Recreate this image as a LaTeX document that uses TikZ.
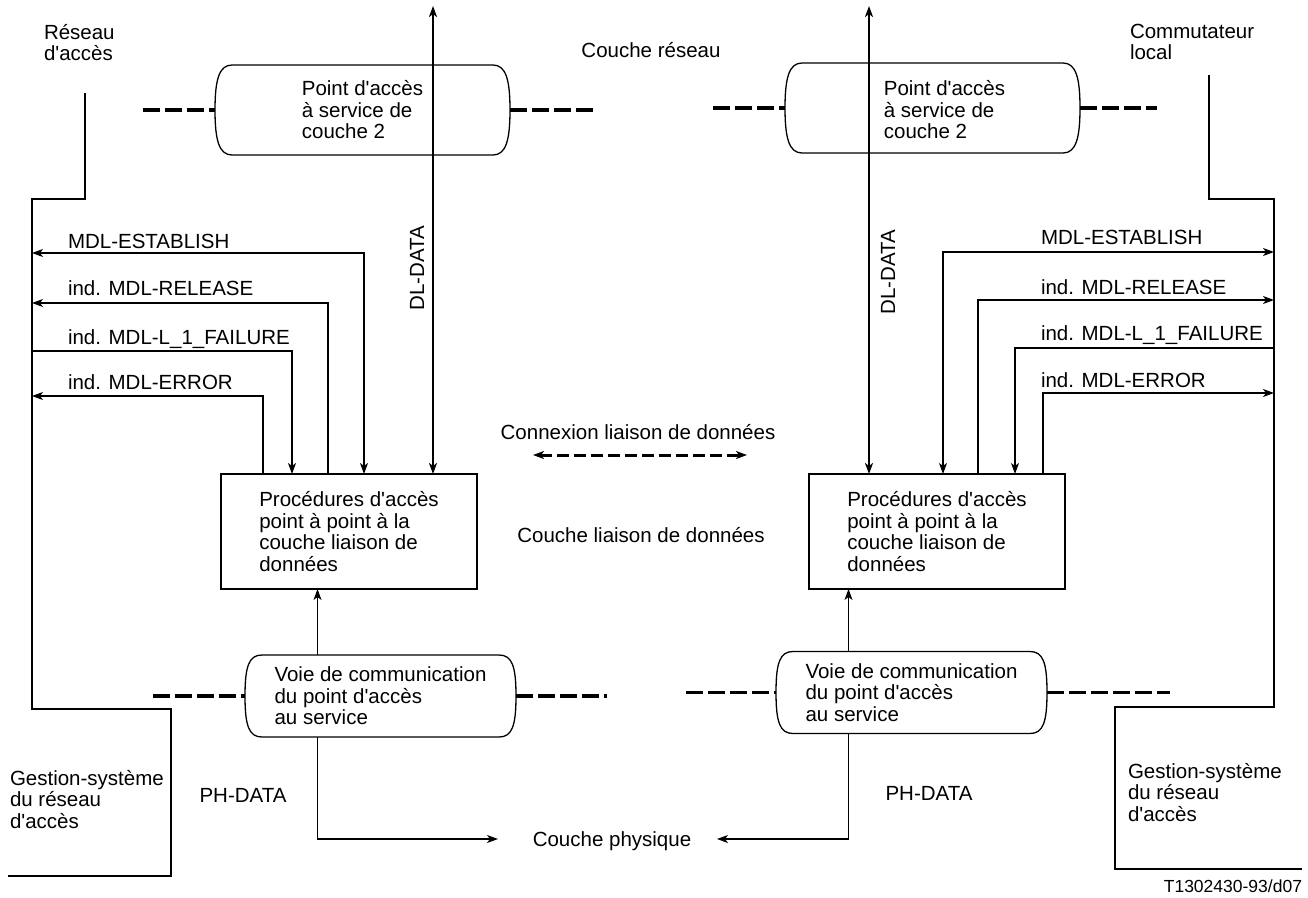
\documentclass[tikz,border=0pt]{standalone}
\usepackage{fontspec}
\setmainfont{Liberation Sans}[Ligatures=TeXOff]
\usetikzlibrary{arrows.meta,calc}

\newcommand\diafont{\fontsize{20.5}{21.5}\selectfont}
\newcommand\smallfont{\fontsize{17.5}{20}\selectfont}

% service access point outline: flat top and bottom, bulging sides
\newcommand\drawcapsule[1]{%
  \draw[capline] ($(#1.north west)+(17,0)$) -- ($(#1.north east)+(-17,0)$)
    .. controls ($(#1.north east)+(-4,0)$) and ($(#1.east)+(0,-30)$) .. (#1.east)
    .. controls ($(#1.east)+(0,30)$) and ($(#1.south east)+(-4,0)$) .. ($(#1.south east)+(-17,0)$)
    -- ($(#1.south west)+(17,0)$)
    .. controls ($(#1.south west)+(4,0)$) and ($(#1.west)+(0,30)$) .. (#1.west)
    .. controls ($(#1.west)+(0,-30)$) and ($(#1.north west)+(4,0)$) .. ($(#1.north west)+(17,0)$);}

\tikzset{
  x=1pt, y=-1pt,
  >={Stealth[length=11pt,width=8pt,inset=3pt]},
  every node/.style={font=\diafont, inner sep=0pt, outer sep=0pt},
  thinline/.style={line width=1.1pt},
  dlline/.style={line width=2.2pt},
  capline/.style={line width=1.3pt},
  sapline/.style={line width=3.8pt, dash pattern=on 17pt off 5pt},
  linkline/.style={line width=3pt, dash pattern=on 12pt off 5pt},
  sapnode/.style={align=left, minimum width=#1},
  procbox/.style={draw, line width=1.1pt, align=left, minimum width=256pt, minimum height=115pt},
  multi/.style={align=left, anchor=north west},
}

\begin{document}
\begin{tikzpicture}
\useasboundingbox (0,0) rectangle (1308,897);

% ---------- texts of the layers and systems ----------
\node[multi] (resacc) at (44,24) {Réseau\\d'accès};
\node[multi] (commut) at (1130,24) {Commutateur\\local};
\node[anchor=base] (cres) at (651,57) {Couche réseau};
\node[anchor=base] (clink) at (638,439) {Connexion liaison de données};
\node[anchor=base] (cliais) at (641,542) {Couche liaison de données};
\node[anchor=base] (cphys) at (612,846) {Couche physique};
\node[multi] (gestL) at (10,770) {Gestion-système\\du réseau\\d'accès};
\node[multi] (gestR) at (1128,763) {Gestion-système\\du réseau\\d'accès};
\node[anchor=base east, font=\smallfont] (ref) at (1302,892) {T1302430-93/d07};

% ---------- layer 2 service access points ----------
\node[sapnode=295pt, minimum height=90pt] (sapL) at (362.5,110) {Point d'accès\\à service de\\couche 2};
\node[minimum width=295pt, minimum height=90pt] (sapR) at (932.5,108) {};
\node[align=left] (sapRtext) at ([xshift=12pt,yshift=-2pt]sapR.center) {Point d'accès\\à service de\\couche 2};
\drawcapsule{sapL}
\drawcapsule{sapR}
\draw[sapline] ($(sapL.west)+(-72,0)$) -- (sapL.west);
\draw[sapline] (sapL.east) -- ++(84,0);
\draw[sapline] ($(sapR.west)+(-72,0)$) -- (sapR.west);
\draw[sapline] (sapR.east) -- ++(77,0);

% ---------- data link procedures ----------
\node[procbox] (boxL) at (349,531.5) {Procédures d'accès\\point à point à la\\couche liaison de\\données};
\node[procbox] (boxR) at (937,531.5) {Procédures d'accès\\point à point à la\\couche liaison de\\données};

% ---------- physical service access points ----------
\node[sapnode=271pt, minimum height=82pt] (voieL) at (380.5,696) {Voie de communication\\du point d'accès\\au service};
\node[sapnode=271pt, minimum height=82pt] (voieR) at (911.5,692.5) {Voie de communication\\du point d'accès\\au service};
\drawcapsule{voieL}
\drawcapsule{voieR}
\draw[sapline] ($(voieL.west)+(-92,0)$) -- (voieL.west);
\draw[sapline] (voieL.east) -- ++(91,0);
\draw[sapline] ($(voieR.west)+(-90,0)$) -- (voieR.west);
\draw[sapline] (voieR.east) -- ++(123,0);

% ---------- DL-DATA ----------
\coordinate (dlTopL) at (433,6);
\coordinate (dlTopR) at (869,6);
\draw[dlline,<->] (dlTopL) -- (dlTopL |- boxL.north);
\draw[dlline,<->] (dlTopR) -- (dlTopR |- boxR.north);
\node[rotate=90] (dlL) at (417,268) {DL-DATA};
\node[rotate=90] (dlR) at (888,272) {DL-DATA};

% ---------- data link connection ----------
\coordinate (linkA) at (533,455);
\coordinate (linkB) at (747,455);
\draw[linkline,<->] (linkA) -- (linkB);

% ---------- system management boundaries ----------
\coordinate (mL1) at (85,93);  \coordinate (mL2) at (85,199);
\coordinate (mL3) at (32,199); \coordinate (mL4) at (32,709);
\coordinate (mL5) at (171,709); \coordinate (mL6) at (171,876);
\coordinate (mL7) at (8,876);
\draw[thinline] (mL1) -- (mL2) -- (mL3) -- (mL4) -- (mL5) -- (mL6) -- (mL7);
\coordinate (mR1) at (1209,75);  \coordinate (mR2) at (1209,199);
\coordinate (mR3) at (1274,199); \coordinate (mR4) at (1274,707);
\coordinate (mR5) at (1115,707); \coordinate (mR6) at (1115,869);
\coordinate (mR7) at (1302,869);
\draw[thinline] (mR1) -- (mR2) -- (mR3) -- (mR4) -- (mR5) -- (mR6) -- (mR7);

% ---------- MDL primitives, left side ----------
\coordinate (lEst) at (32,253);
\coordinate (lRel) at (32,303);
\coordinate (lFail) at (32,351);
\coordinate (lErr) at (32,396);
\draw[thinline,<->] (lEst) -| ([xshift=15pt]boxL.north);
\draw[thinline,<-] (lRel) -| ([xshift=-21pt]boxL.north);
\draw[thinline,->] (lFail) -| ([xshift=-57pt]boxL.north);
\draw[thinline,<-] (lErr) -| ([xshift=-86pt]boxL.north);
\node[anchor=base west] (tlEst) at (68,248) {MDL-ESTABLISH};
\node[anchor=base west] (tlRel) at (68,295) {ind. MDL-RELEASE};
\node[anchor=base west] (tlFail) at (68,344) {ind. MDL-L\_1\_FAILURE};
\node[anchor=base west] (tlErr) at (68,389) {ind. MDL-ERROR};

% ---------- MDL primitives, right side ----------
\coordinate (rEst) at (1274,252);
\coordinate (rRel) at (1274,300);
\coordinate (rFail) at (1274,348);
\coordinate (rErr) at (1274,393);
\draw[thinline,<->] (rEst) -| ([xshift=6pt]boxR.north);
\draw[thinline,<-] (rRel) -| ([xshift=41pt]boxR.north);
\draw[thinline,->] (rFail) -| ([xshift=78pt]boxR.north);
\draw[thinline,<-] (rErr) -| ([xshift=106pt]boxR.north);
\node[anchor=base west] (trEst) at (1041,244) {MDL-ESTABLISH};
\node[anchor=base west] (trRel) at (1041,294) {ind. MDL-RELEASE};
\node[anchor=base west] (trFail) at (1041,340) {ind. MDL-L\_1\_FAILURE};
\node[anchor=base west] (trErr) at (1041,387) {ind. MDL-ERROR};

% ---------- physical layer ----------
\draw[thinline,->] ([xshift=-63pt]voieL.north) -- ([xshift=-63pt]voieL.north |- boxL.south);
\draw[thinline,->] ([xshift=-63pt]voieR.north) -- ([xshift=-63pt]voieR.north |- boxR.south);
\coordinate (physL) at (498,839);
\coordinate (physR) at (717,839);
\draw[thinline,->] ([xshift=-63pt]voieL.south) |- (physL);
\draw[thinline,->] ([xshift=-63pt]voieR.south) |- (physR);
\node[anchor=base] (phL) at (243,802) {PH-DATA};
\node[anchor=base] (phR) at (929,800) {PH-DATA};
\end{tikzpicture}
\end{document}
